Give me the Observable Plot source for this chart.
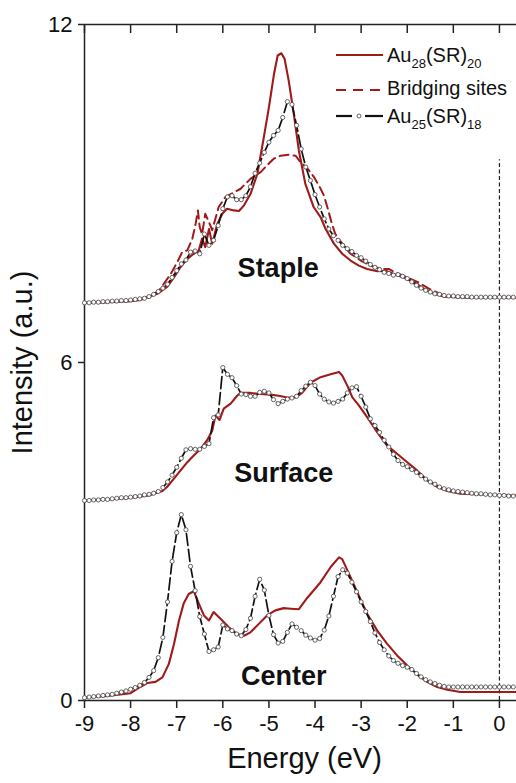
<!DOCTYPE html>
<html>
<head>
<meta charset="utf-8">
<script src="https://cdn.jsdelivr.net/npm/d3@7"></script>
<script src="https://cdn.jsdelivr.net/npm/@observablehq/plot@0.6"></script>
<style>
  html, body { margin: 0; padding: 0; background: #fff; }
  #wrap { position: relative; width: 516px; height: 783px; font-family: "Liberation Sans", Arial, sans-serif; }
  #legend { position: absolute; left: 0; top: 0; pointer-events: none; }
</style>
</head>
<body>
<div id="wrap"></div>
<script>
// ---- tick labels / categories ----
const xTicks = [-9, -8, -7, -6, -5, -4, -3, -2, -1, 0];
const yTicks = [0, 6, 12];
const seriesNames = ["Au28(SR)20", "Bridging sites", "Au25(SR)18"];
const regionLabels = ["Staple", "Surface", "Center"];
const regionX = [-4.80, -4.68, -4.68];
const regionY = [7.67, 4.04, 0.42];

// ---- Au25(SR)18 : sampled every 0.1 eV from -9.0 to 0.3 ----
const energy = d3.range(94).map(i => +(-9 + i * 0.1).toFixed(1));

const stapleAu25 = [
  7.06,7.06,7.07,7.07,7.08,7.08,7.09,7.09,7.10,7.10,
  7.11,7.12,7.13,7.14,7.17,7.21,7.26,7.32,7.39,7.51,
  7.63,7.75,7.82,7.96,7.98,7.93,8.28,8.08,8.17,8.43,
  8.73,8.94,8.96,8.89,8.89,8.96,9.12,9.36,9.54,9.73,
  9.91,10.03,10.12,10.35,10.63,10.58,10.21,9.79,9.47,9.23,
  8.98,8.76,8.55,8.37,8.25,8.17,8.08,8.02,7.97,7.90,
  7.86,7.80,7.74,7.69,7.65,7.60,7.58,7.55,7.56,7.53,
  7.49,7.43,7.37,7.32,7.28,7.25,7.22,7.21,7.19,7.18,
  7.18,7.17,7.17,7.17,7.16,7.16,7.16,7.16,7.16,7.16,
  7.16,7.16,7.16,7.16
];
const surfaceAu25 = [
  3.55,3.55,3.56,3.56,3.57,3.57,3.58,3.59,3.60,3.60,
  3.61,3.62,3.63,3.65,3.66,3.68,3.71,3.78,3.88,4.00,
  4.14,4.30,4.45,4.47,4.46,4.46,4.51,4.56,5.02,5.07,
  5.91,5.79,5.73,5.59,5.44,5.43,5.40,5.40,5.47,5.49,
  5.46,5.34,5.27,5.31,5.35,5.37,5.40,5.50,5.58,5.65,
  5.59,5.44,5.35,5.30,5.28,5.31,5.35,5.46,5.55,5.57,
  5.40,5.21,5.00,4.88,4.76,4.62,4.50,4.37,4.26,4.19,
  4.15,4.10,4.05,3.99,3.93,3.88,3.84,3.79,3.76,3.74,
  3.72,3.71,3.70,3.69,3.68,3.67,3.67,3.66,3.65,3.65,
  3.64,3.64,3.63,3.63
];
const centerAu25 = [
  0.05,0.06,0.07,0.08,0.09,0.10,0.11,0.13,0.15,0.17,
  0.20,0.23,0.27,0.32,0.41,0.53,0.76,1.12,1.75,2.47,
  2.98,3.30,3.03,2.38,1.95,1.49,1.18,0.87,0.90,0.95,
  1.34,1.27,1.24,1.18,1.15,1.26,1.46,1.85,2.15,1.96,
  1.51,1.17,1.02,1.05,1.21,1.36,1.30,1.24,1.16,1.11,
  1.07,1.10,1.25,1.50,1.85,2.20,2.32,2.26,2.10,1.93,
  1.75,1.58,1.40,1.20,1.03,0.90,0.79,0.71,0.66,0.62,
  0.59,0.55,0.48,0.42,0.37,0.33,0.30,0.27,0.25,0.24,
  0.24,0.24,0.24,0.24,0.24,0.24,0.24,0.24,0.24,0.24,
  0.24,0.24,0.24,0.24
];

// ---- Au28(SR)20 ----
const stapleAu28X = [-9.0,-8.5,-8.0,-7.79,-7.42,-7.21,-7.06,-6.92,-6.77,-6.63,-6.52,-6.45,-6.38,-6.30,-6.23,-6.12,-6.01,-5.91,-5.76,-5.65,-5.54,-5.40,-5.25,-5.11,-5.0,-4.89,-4.81,-4.73,-4.66,-4.57,-4.46,-4.35,-4.21,-4.03,-3.88,-3.77,-3.59,-3.41,-3.23,-3.05,-2.87,-2.65,-2.47,-2.29,-2.08,-1.86,-1.64,-1.42,-1.21,-0.93,-0.56,0.37];
const stapleAu28Y = [7.06,7.07,7.09,7.11,7.22,7.34,7.51,7.69,7.84,7.93,7.99,8.20,8.05,8.37,8.11,8.46,8.64,8.73,8.70,8.69,8.79,8.99,9.35,10.0,10.53,11.12,11.45,11.49,11.39,11.0,10.41,9.76,9.17,8.76,8.58,8.37,8.11,7.93,7.81,7.72,7.66,7.62,7.63,7.57,7.51,7.43,7.31,7.22,7.17,7.16,7.15,7.15];

const surfaceAu28X = [-9.0,-8.5,-8.0,-7.6,-7.46,-7.31,-7.21,-7.06,-6.92,-6.77,-6.63,-6.48,-6.34,-6.23,-6.16,-6.07,-5.98,-5.83,-5.69,-5.62,-5.40,-5.18,-4.97,-4.79,-4.60,-4.42,-4.28,-4.10,-3.88,-3.66,-3.48,-3.41,-3.30,-3.19,-3.05,-2.87,-2.65,-2.44,-2.22,-2.0,-1.78,-1.57,-1.35,-1.13,-0.85,-0.56,0.37];
const surfaceAu28Y = [3.55,3.57,3.60,3.64,3.68,3.72,3.79,3.94,4.08,4.23,4.35,4.47,4.62,4.79,5.06,4.98,5.18,5.27,5.41,5.46,5.46,5.44,5.43,5.41,5.38,5.38,5.46,5.64,5.74,5.79,5.83,5.77,5.59,5.38,5.24,5.03,4.76,4.53,4.38,4.23,4.08,3.91,3.79,3.72,3.67,3.66,3.64];

const centerAu28X = [-9.0,-8.5,-8.0,-7.79,-7.64,-7.46,-7.31,-7.17,-7.06,-6.95,-6.85,-6.74,-6.63,-6.52,-6.41,-6.30,-6.20,-6.05,-5.87,-5.69,-5.54,-5.40,-5.22,-5.04,-4.86,-4.68,-4.53,-4.35,-4.17,-3.88,-3.66,-3.48,-3.41,-3.23,-3.05,-2.87,-2.65,-2.44,-2.22,-2.0,-1.78,-1.57,-1.35,-1.13,-0.85,-0.56,0.37];
const centerAu28Y = [0.05,0.08,0.13,0.24,0.31,0.33,0.41,0.65,1.0,1.42,1.72,1.89,1.94,1.72,1.51,1.42,1.57,1.45,1.30,1.18,1.15,1.21,1.36,1.51,1.60,1.64,1.63,1.62,1.82,2.10,2.37,2.54,2.51,2.19,1.86,1.54,1.24,1.01,0.80,0.62,0.46,0.33,0.24,0.19,0.15,0.15,0.15];

// ---- Bridging sites (staple) ----
const bridgeX = [-9.0,-8.5,-8.0,-7.7,-7.4,-7.13,-6.99,-6.88,-6.77,-6.66,-6.59,-6.54,-6.50,-6.45,-6.38,-6.30,-6.23,-6.09,-5.94,-5.76,-5.62,-5.40,-5.18,-5.04,-4.89,-4.75,-4.57,-4.42,-4.32,-4.17,-4.03,-3.90,-3.80,-3.72,-3.64,-3.56,-3.41,-3.23,-3.01,-2.80,-2.58,-2.40,-2.26,-2.0,-1.78,-1.53,-1.21,-0.93,-0.56,0.37];
const bridgeY = [7.06,7.07,7.09,7.14,7.26,7.57,7.78,7.96,7.99,8.20,8.46,8.70,8.40,8.28,8.64,8.49,8.35,8.76,8.94,9.02,9.08,9.26,9.38,9.50,9.62,9.67,9.69,9.67,9.56,9.45,9.30,9.12,8.95,8.72,8.48,8.28,8.11,7.93,7.81,7.72,7.66,7.66,7.60,7.51,7.43,7.31,7.19,7.16,7.15,7.15];

// Fermi level marker
const fermiX = [0];
const fermiTop = 9.6;

// ---- build tables ----
const RED = "#a01a1a";
const zip = (xs, ys) => xs.map((x, i) => ({x, y: ys[i]}));
const au25Sets = [stapleAu25, surfaceAu25, centerAu25].map(arr => zip(energy, arr));
const au28Sets = [zip(stapleAu28X, stapleAu28Y), zip(surfaceAu28X, surfaceAu28Y), zip(centerAu28X, centerAu28Y)];
const bridge = zip(bridgeX, bridgeY);
const regions = regionLabels.map((t, i) => ({t, x: regionX[i], y: regionY[i]}));

const marks = [
  Plot.ruleY([0], {stroke: "#222", strokeWidth: 1.5}),
  Plot.ruleY([12], {stroke: "#222", strokeWidth: 1.5}),
  Plot.ruleX([-9], {stroke: "#222", strokeWidth: 1.5}),
  Plot.axisX({ticks: xTicks, tickSize: 8, tickPadding: 7, fontSize: 22, label: null, tickFormat: d => String(d), stroke: "#222", strokeWidth: 1.5}),
  Plot.axisX({anchor: "top", ticks: xTicks, tickSize: -8, tickFormat: () => "", label: null, stroke: "#222", strokeWidth: 1.5}),
  Plot.axisY({ticks: yTicks, tickSize: 6, tickPadding: 6, fontSize: 22, label: null, tickFormat: d => String(d), stroke: "#222", strokeWidth: 1.5}),
  Plot.ruleX(fermiX, {y1: 0, y2: fermiTop, stroke: "#222", strokeWidth: 1.2, strokeDasharray: "4,2.5"}),
];
au28Sets.forEach(s => marks.push(Plot.line(s, {x: "x", y: "y", stroke: RED, strokeWidth: 2.1})));
marks.push(Plot.line(bridge, {x: "x", y: "y", stroke: RED, strokeWidth: 2, strokeDasharray: "9,5"}));
au25Sets.forEach(s => {
  marks.push(Plot.line(s, {x: "x", y: "y", stroke: "#111", strokeWidth: 1.7, strokeDasharray: "12,4"}));
  marks.push(Plot.dot(s, {x: "x", y: "y", r: 2.1, fill: "#fff", stroke: "#555", strokeWidth: 0.9}));
});
marks.push(Plot.text(regions, {x: "x", y: "y", text: "t", fontSize: 27, fontWeight: "bold", fill: "#111"}));
marks.push(Plot.text(["Intensity (a.u.)"], {frameAnchor: "left", textAnchor: "middle", rotate: -90, dx: -62, fontSize: 29, fill: "#111"}));
marks.push(Plot.text(["Energy (eV)"], {frameAnchor: "bottom", textAnchor: "middle", dy: 67, dx: 4, fontSize: 29, fill: "#111"}));

const chart = Plot.plot({
  width: 516,
  height: 783,
  marginLeft: 84,
  marginRight: 0,
  marginTop: 24,
  marginBottom: 83,
  x: {domain: [-9, 0.37]},
  y: {domain: [0, 12]},
  style: {fontFamily: "'Liberation Sans', Arial, sans-serif", color: "#111", background: "#fff"},
  marks
});
const wrap = document.getElementById("wrap");
wrap.appendChild(chart);

// ---- legend overlay ----
const NS = "http://www.w3.org/2000/svg";
const leg = document.createElementNS(NS, "svg");
leg.setAttribute("id", "legend");
leg.setAttribute("width", 516);
leg.setAttribute("height", 783);
const legRows = [
  {y: 55, base: 62, kind: "solid"},
  {y: 90, base: 95, kind: "dash"},
  {y: 116, base: 123, kind: "dot"}
];
const el = (tag, attrs, parent) => { const e = document.createElementNS(NS, tag); for (const k in attrs) e.setAttribute(k, attrs[k]); (parent || leg).appendChild(e); return e; };
legRows.forEach((r, i) => {
  if (r.kind === "solid") el("line", {x1: 336, x2: 383, y1: r.y, y2: r.y, stroke: RED, "stroke-width": 2.2});
  if (r.kind === "dash") el("line", {x1: 336, x2: 381, y1: r.y, y2: r.y, stroke: RED, "stroke-width": 2.2, "stroke-dasharray": "10,7"});
  if (r.kind === "dot") {
    el("line", {x1: 336, x2: 352, y1: r.y, y2: r.y, stroke: "#111", "stroke-width": 2.2});
    el("line", {x1: 365, x2: 383, y1: r.y, y2: r.y, stroke: "#111", "stroke-width": 2.2});
    el("circle", {cx: 359, cy: r.y, r: 2, fill: "#fff", stroke: "#555", "stroke-width": 0.9});
  }
  const t = el("text", {x: 387, y: r.base, "font-size": 20, fill: "#111", "font-family": "'Liberation Sans', Arial, sans-serif"});
  const name = seriesNames[i];
  const m = name.match(/^Au(\d+)\(SR\)(\d+)$/);
  if (m) {
    const a = el("tspan", {}, t); a.textContent = "Au";
    const s1 = el("tspan", {"font-size": 13, dy: 6}, t); s1.textContent = m[1];
    const b = el("tspan", {dy: -6}, t); b.textContent = "(SR)";
    const s2 = el("tspan", {"font-size": 13, dy: 6}, t); s2.textContent = m[2];
  } else {
    t.textContent = name;
  }
});
wrap.appendChild(leg);
</script>
</body>
</html>
